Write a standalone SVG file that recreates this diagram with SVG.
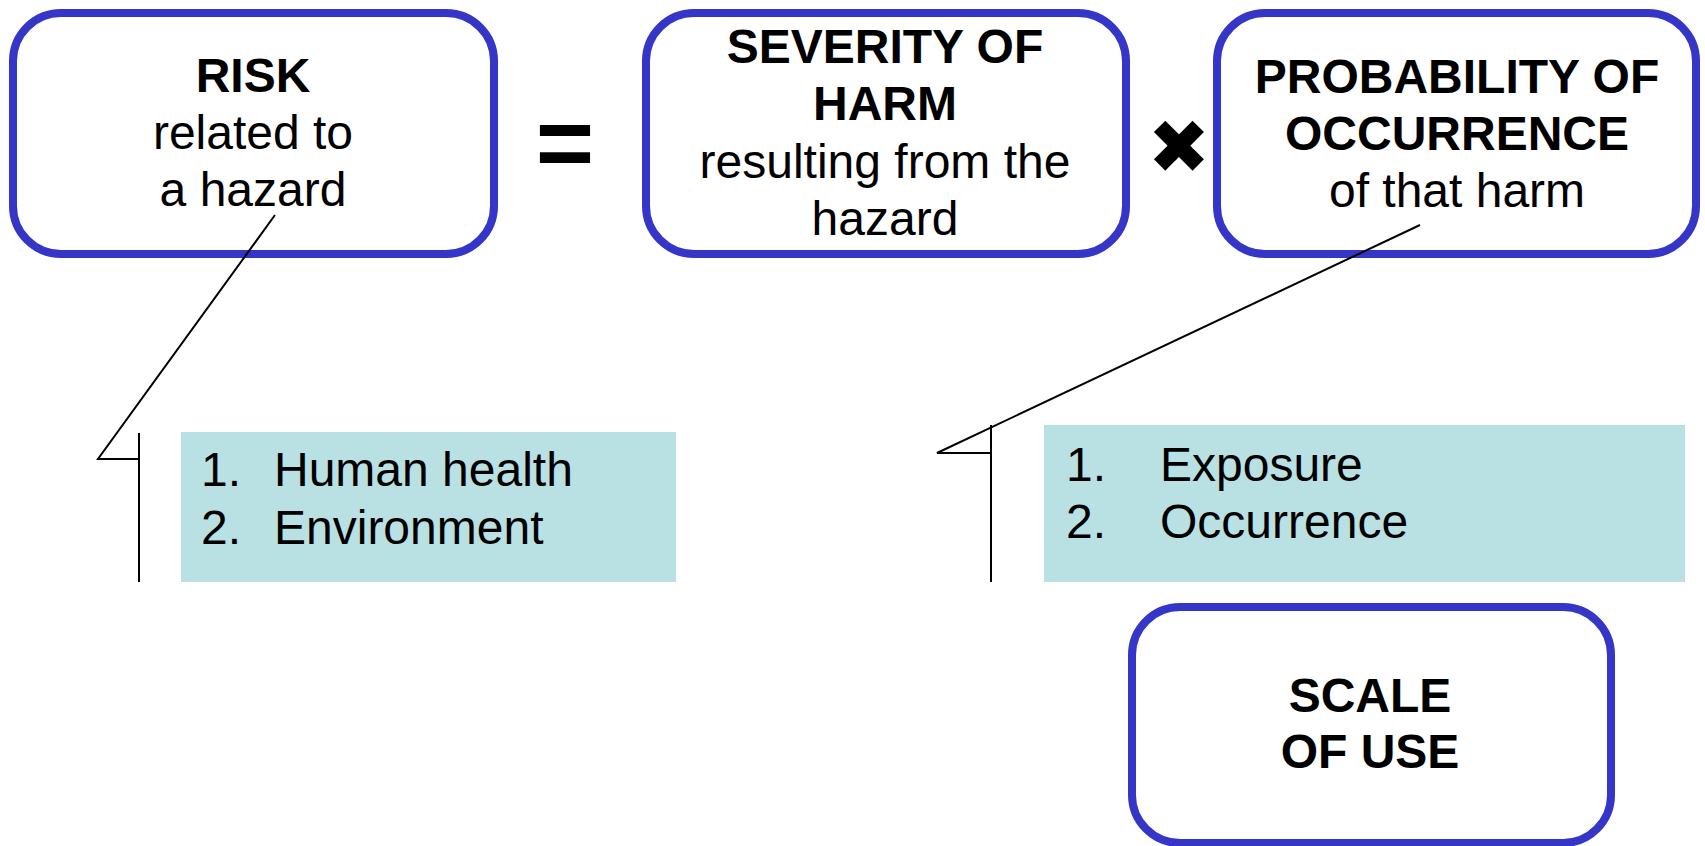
<svg xmlns="http://www.w3.org/2000/svg" width="1705" height="846" viewBox="0 0 1705 846">
<style>
.box{fill:#fff;stroke:#3535C8;stroke-width:8}
.list{fill:#B9E0E3}
.t{font-family:"Liberation Sans",Arial,sans-serif;font-size:48px;fill:#000;text-anchor:middle}
.b{font-weight:bold}
.l{font-family:"Liberation Sans",Arial,sans-serif;font-size:48px;fill:#000}
.c{fill:none;stroke:#000;stroke-width:2}
</style>
<rect width="1705" height="846" fill="#fff"/>
<g id="risk">
<rect class="box" x="13" y="13" width="481" height="241" rx="48"/>
<text class="t b" x="253" y="92">RISK</text>
<text class="t" x="253" y="149">related to</text>
<text class="t" x="253" y="206">a hazard</text>
</g>
<g id="equals">
<text class="t b" x="565" y="177" style="font-size:100px">=</text>
</g>
<g id="severity">
<rect class="box" x="646" y="13" width="480" height="241" rx="48"/>
<text class="t b" x="885" y="63">SEVERITY OF</text>
<text class="t b" x="885" y="120">HARM</text>
<text class="t" x="885" y="178">resulting from the</text>
<text class="t" x="885" y="235">hazard</text>
</g>
<g id="times">
<text x="1179" y="173" style="font-family:'DejaVu Sans',sans-serif;font-size:75px;text-anchor:middle">✖</text>
</g>
<g id="probability">
<rect class="box" x="1217" y="13" width="479" height="241" rx="48"/>
<text class="t b" x="1457" y="93">PROBABILITY OF</text>
<text class="t b" x="1457" y="150">OCCURRENCE</text>
<text class="t" x="1457" y="207">of that harm</text>
</g>
<g id="hazards">
<rect class="list" x="181" y="432" width="495" height="150"/>
<text class="l" x="201" y="486">1.</text>
<text class="l" x="274" y="486">Human health</text>
<text class="l" x="201" y="544">2.</text>
<text class="l" x="274" y="544">Environment</text>
</g>
<g id="probability-factors">
<rect class="list" x="1044" y="425" width="641" height="157"/>
<text class="l" x="1066" y="481">1.</text>
<text class="l" x="1160" y="481">Exposure</text>
<text class="l" x="1066" y="538">2.</text>
<text class="l" x="1160" y="538">Occurrence</text>
</g>
<g id="scale">
<rect class="box" x="1132" y="607" width="479" height="236" rx="48"/>
<text class="t b" x="1370" y="712">SCALE</text>
<text class="t b" x="1370" y="768">OF USE</text>
</g>
<g id="connectors">
<polyline class="c" points="275,215 98,459 139,459"/>
<line class="c" x1="139" y1="433" x2="139" y2="582"/>
<polyline class="c" points="1420,225 937,453 991,453"/>
<line class="c" x1="991" y1="425" x2="991" y2="582"/>
</g>
</svg>
